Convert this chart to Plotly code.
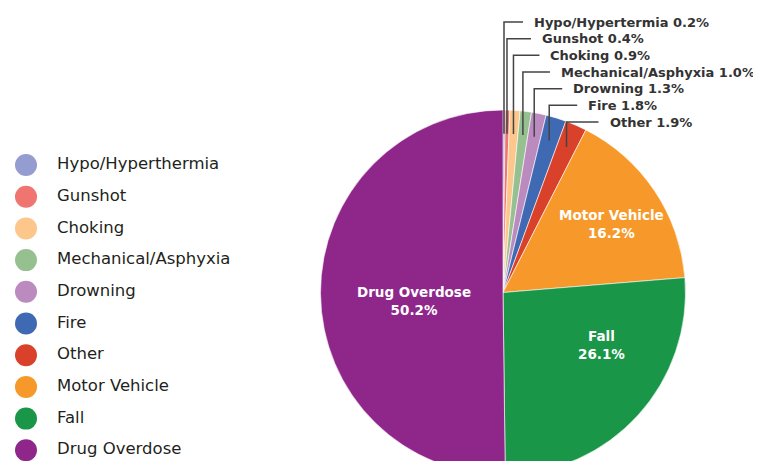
import math
import plotly.graph_objects as go

# ---------------- data ----------------
categories = ["Hypo/Hyperthermia", "Gunshot", "Choking", "Mechanical/Asphyxia", "Drowning",
              "Fire", "Other", "Motor Vehicle", "Fall", "Drug Overdose"]
shares = [0.2, 0.4, 0.9, 1.0, 1.3, 1.8, 1.9, 16.2, 26.1, 50.2]
callout_names = ["Hypo/Hypertermia", "Gunshot", "Choking", "Mechanical/Asphyxia",
                 "Drowning", "Fire", "Other"]
colors = ["#959CCF", "#F07470", "#FDC68A", "#96C08F", "#BB8BBF",
          "#3F6AB3", "#D9412B", "#F6992A", "#1A9648", "#8F278B"]

# ---------------- layout constants ----------------
W, H = 761, 480
OFF = 8                              # page body margin (px)
CX, CY, R = 503, 292.5, 182.5        # pie centre / radius (px, screen)
LEG_X0, LEG_TX = 26, 57              # legend marker / text x (px, screen)
LEG_Y0, LEG_DY = 165, 31.7           # legend first row y, row step
CALL_Y0, CALL_DY = 22, 16.67         # callout first row y, row step
CALL_LEN = [19, 24, 26, 27, 28, 28, 32]  # horizontal leader lengths (px)
# inside-label placement: (radius fraction, angular nudge in degrees)
inside_place = {7: (0.70, 1.6), 8: (0.61, -14.4), 9: (0.49, -5.0)}

def px2paper(x, y):
    return (x - OFF) / W, 1 - (y - OFF) / H

n_small = len(callout_names)
total = sum(shares)

fig = go.Figure()

fig.add_trace(go.Pie(
    labels=categories, values=shares, sort=False, direction="clockwise", rotation=0,
    marker=dict(colors=colors, line=dict(color="white", width=0.6)),
    textinfo="none",
    domain=dict(x=[(CX - R - OFF) / W, (CX + R - OFF) / W],
                y=[1 - (CY + R - OFF) / H, 1 - (CY - R - OFF) / H]),
    showlegend=False, hoverinfo="label+percent",
))

# ---- legend drawn as scatter on its own axis ----
unit_x = LEG_TX - LEG_X0
xdom = [0, 0.4]
fig.add_trace(go.Scatter(
    x=[0] * len(categories), y=categories, mode="markers",
    marker=dict(size=22, color=colors, line=dict(width=0)),
    showlegend=False, hoverinfo="skip", xaxis="x", yaxis="y",
))
fig.add_trace(go.Scatter(
    x=[1] * len(categories), y=categories, mode="text", text=categories,
    textposition="middle right",
    textfont=dict(family="DejaVu Sans", size=16.5, color="#231F20"),
    showlegend=False, hoverinfo="skip", xaxis="x", yaxis="y",
))
y_top_val, y_bot_val = -0.6, len(categories) - 0.6
y_top_px = LEG_Y0 + y_top_val * LEG_DY - OFF
y_bot_px = LEG_Y0 + y_bot_val * LEG_DY - OFF
fig.update_layout(
    xaxis=dict(domain=xdom, range=[-(LEG_X0 - OFF) / unit_x, (xdom[1] * W - (LEG_X0 - OFF)) / unit_x],
               visible=False, fixedrange=True),
    yaxis=dict(domain=[1 - y_bot_px / H, 1 - y_top_px / H], type="category",
               categoryorder="array", categoryarray=categories,
               range=[y_bot_val, y_top_val], visible=False, fixedrange=True),
)

# ---- callouts for small slices, inside labels for large ones ----
shapes, annos = [], []
cum = 0.0
for i, v in enumerate(shares):
    mid = (cum + v / 2) / total
    cum += v
    th = 2 * math.pi * mid
    if i >= n_small:
        frac, nudge = inside_place[i]
        a = th + math.radians(nudge)
        px = CX + frac * R * math.sin(a)
        py = CY - frac * R * math.cos(a)
        p = px2paper(px, py)
        annos.append(dict(xref="paper", yref="paper", x=p[0], y=p[1], xanchor="center",
                          yanchor="middle", showarrow=False,
                          text=f"{categories[i]}<br>{v:.1f}%",
                          font=dict(family="DejaVu Sans", size=13.5, color="white", weight="bold")))
        continue
    rr = 0.87 * R
    x0 = CX + rr * math.sin(th)
    y0 = CY - rr * math.cos(th)
    ly = CALL_Y0 + CALL_DY * i
    x2 = x0 + CALL_LEN[i]
    p0 = px2paper(x0, y0)
    p1 = px2paper(x0, ly)
    p2 = px2paper(x2, ly)
    shapes.append(dict(type="path", xref="paper", yref="paper",
                       path=f"M {p0[0]},{p0[1]} L {p1[0]},{p1[1]} L {p2[0]},{p2[1]}",
                       line=dict(color="#444444", width=1.5)))
    pt = px2paper(x2 + 9, ly)
    annos.append(dict(xref="paper", yref="paper", x=pt[0], y=pt[1], xanchor="left",
                      yanchor="middle", showarrow=False,
                      text=f"{callout_names[i]} {v:.1f}%",
                      font=dict(family="DejaVu Sans", size=13, color="#333333", weight="bold")))

fig.update_layout(
    width=W, height=H, margin=dict(l=0, r=0, t=0, b=0),
    paper_bgcolor="white", plot_bgcolor="rgba(0,0,0,0)",
    shapes=shapes, annotations=annos, showlegend=False,
)

fig.write_html("out.html")
